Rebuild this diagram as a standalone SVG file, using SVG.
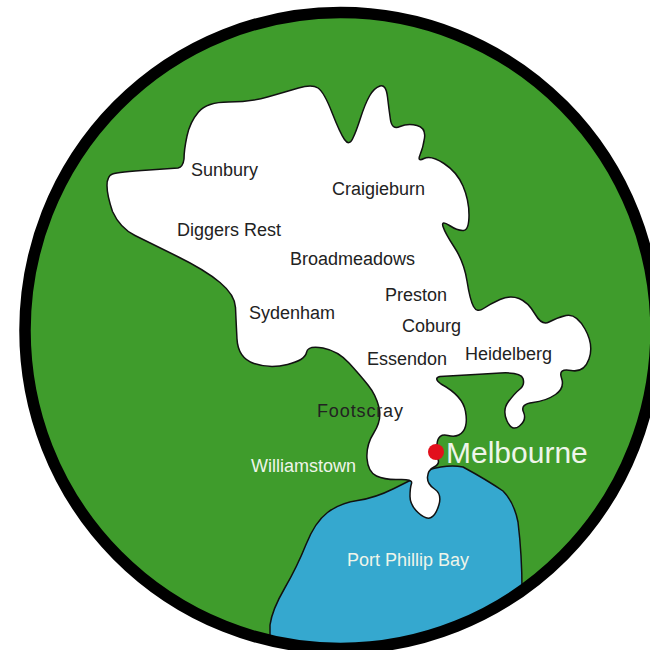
<svg xmlns="http://www.w3.org/2000/svg" width="650" height="650" viewBox="0 0 650 650">
<style>
text{font-family:"Liberation Sans",Arial,sans-serif;font-size:18px;fill:#222}
.l{fill:#eef5ea}
.edge{stroke:#111;stroke-width:1.5;stroke-linejoin:round}
</style>
<defs><clipPath id="disc"><ellipse cx="340.5" cy="330.5" rx="315.5" ry="318"/></clipPath></defs>
<rect width="650" height="650" fill="#fff"/>
<ellipse id="land" cx="340.5" cy="330.5" rx="315.5" ry="318" fill="#3f9c2c"/>
<g clip-path="url(#disc)"><path id="bay" class="edge" fill="#35a8cf" d="M428,470Q448,464 463,467Q487,480 503,491Q514,502 518,522Q522,555 522,590L522,660L270,660L270,625Q272,610 284.5,588.5Q297,567 306,544.5Q315,522 327.5,512.5Q340,503 357.5,500.5Q375,498 394,488.5L413,479Z"/></g>
<ellipse id="ring" cx="340.5" cy="330.5" rx="315.5" ry="318" fill="none" stroke="#000" stroke-width="11.5"/>
<path id="city" class="edge" fill="#fff" d="M107,185.5Q107,176 112.5,174Q118,172 149,170L178,168Q183,167 184,159Q184,150 187,136Q190,122 198.5,112Q207,102 228.5,102Q250,102 267.5,97Q285,92 298.5,88Q312,84 318,88Q324,92 332,112.5Q340,133 344.5,139.5Q349,146 352.5,139Q356,132 360.5,118Q365,104 369.5,96Q374,88 380,86Q386,84 387.5,97Q389,110 390.5,120Q392,130 400,126.5Q408,123 417,125.5Q426,128 424.5,138Q423,148 420,155Q417,162 424,158.5Q431,155 444,163.5Q457,172 463,186Q469,200 469,215Q469,230 463.5,230.5Q458,231 449.5,225.5Q441,220 443,226.5Q445,233 454.5,247.5Q464,262 467,281Q470,300 473.5,306.5Q477,313 483.5,308.5Q490,304 500,299.5Q510,295 519,298.5Q528,302 535,314Q542,326 549,322Q556,318 566,315.5Q576,313 585,329Q594,345 589,359Q584,373 571,370.5Q558,368 561.5,378Q565,388 555.5,394.5Q546,401 533,402.5Q520,404 523.5,412Q527,420 519.5,426Q512,432 507,421Q502,410 508.5,401.5Q515,393 520,389Q525,385 523,378.5Q521,372 500.5,373Q480,374 457.5,375.5L440,376.5Q433,378 441,384Q463,396 465.5,411.5Q468,425 463,431.5Q458,438 448,435.5Q438,433 437,444Q436,455 438,459.5Q440,464 434,467Q428,470 427.5,477Q427,484 434.5,489Q442,494 439,504.5Q436,515 431,517.5Q426,520 418,512.5Q410,505 410,496.5Q410,488 411.5,483.5Q413,479 399,479.5Q385,480 376.5,476Q368,472 367,458.5Q366,445 374,432.5Q382,420 379,407.5Q376,395 368,385Q360,375 349,363Q338,351 323,348Q308,345 306.5,352.5Q305,360 287.5,364.5Q270,369 254,363.5Q238,358 237,339Q236,320 235.5,307.5Q235,295 220,282.5Q205,270 177.5,256.5Q150,243 135,235.5Q120,228 112.5,211.5Q107,195 107,185.5Z"/>
<circle id="melbourne-dot" cx="436" cy="452" r="8" fill="#e2101c"/>
<g id="labels">
<text x="191" y="176">Sunbury</text>
<text x="332" y="195">Craigieburn</text>
<text x="177" y="236">Diggers Rest</text>
<text x="290" y="265">Broadmeadows</text>
<text x="385" y="301">Preston</text>
<text x="249" y="319">Sydenham</text>
<text x="402" y="332">Coburg</text>
<text x="367" y="365">Essendon</text>
<text x="465" y="360">Heidelberg</text>
<text x="317" y="417" textLength="86">Footscray</text>
<text class="l" x="251" y="472">Williamstown</text>
<text class="l" x="347" y="566">Port Phillip Bay</text>
<text class="l" x="446" y="463" style="font-size:30px">Melbourne</text>
</g>
</svg>
